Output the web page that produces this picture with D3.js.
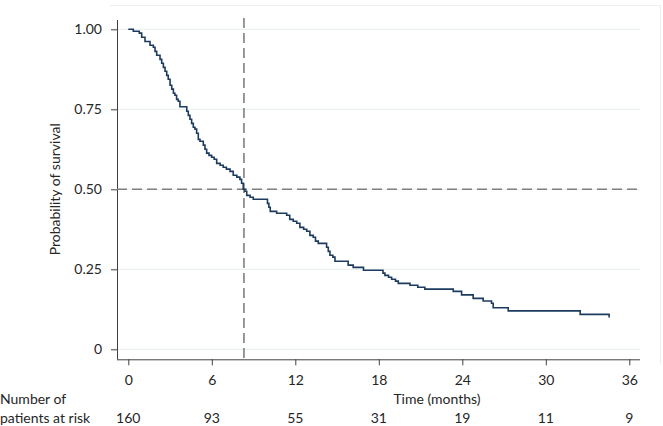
<!DOCTYPE html>
<html>
<head>
<meta charset="utf-8">
<script src="https://cdn.jsdelivr.net/npm/d3@7"></script>
<style>
  html, body { margin: 0; padding: 0; background: #fff; }
  svg { display: block; }
  text { font-family: Lato, "Open Sans", sans-serif; fill: #262626; }
</style>
</head>
<body>
<svg id="chart" width="663" height="426"></svg>
<script>
// ---- data ----
const stepTimes = [0.36, 0.79, 0.96, 1.2, 1.56, 1.8, 1.92, 2.04, 2.28, 2.4, 2.52, 2.64, 2.76, 2.87, 3.0, 3.12, 3.24, 3.35, 3.47, 3.59, 3.71,
  4.2, 4.31, 4.43, 4.55, 4.67, 4.79, 4.91, 5.03, 5.15, 5.39, 5.51, 5.63, 5.8, 5.99, 6.17, 6.35, 6.6, 6.82, 7.05, 7.31, 7.54, 7.8, 8.02,
  8.14, 8.26, 8.38, 8.51, 8.75, 8.98, 10.0, 10.1, 10.2, 10.66, 11.38, 11.6, 11.85, 12.1, 12.33, 12.6, 12.82, 13.05, 13.29, 13.45, 13.65,
  14.25, 14.37, 14.49, 14.7, 14.85, 15.8, 16.16, 16.9, 18.3, 18.44, 18.7, 18.92, 19.2, 19.4, 20.24, 20.8, 21.31, 23.35, 23.95, 24.78,
  25.5, 26.1, 26.22, 27.3, 32.47, 34.55];
const stepSurv = [0.994, 0.988, 0.975, 0.962, 0.950, 0.944, 0.931, 0.919, 0.906, 0.894, 0.881, 0.869, 0.856, 0.844, 0.825, 0.813, 0.800, 0.794, 0.781, 0.775, 0.758,
  0.744, 0.731, 0.719, 0.706, 0.694, 0.688, 0.675, 0.656, 0.650, 0.638, 0.625, 0.613, 0.606, 0.600, 0.594, 0.581, 0.575, 0.569, 0.563, 0.556, 0.544, 0.538, 0.531,
  0.519, 0.500, 0.494, 0.481, 0.475, 0.469, 0.456, 0.444, 0.431, 0.425, 0.419, 0.406, 0.400, 0.394, 0.381, 0.375, 0.369, 0.356, 0.350, 0.338, 0.331,
  0.319, 0.306, 0.294, 0.288, 0.275, 0.263, 0.256, 0.247, 0.238, 0.231, 0.225, 0.219, 0.213, 0.206, 0.200, 0.194, 0.188, 0.181, 0.170, 0.159,
  0.151, 0.144, 0.130, 0.120, 0.109, 0.099];
const xTicks = [0, 6, 12, 18, 24, 30, 36];
const yTicks = [0, 0.25, 0.5, 0.75, 1];
const yTickLabels = ["0", "0.25", "0.50", "0.75", "1.00"];
const riskCounts = [160, 93, 55, 31, 19, 11, 9];
const medianTime = 8.31;
const medianSurv = 0.5;

// ---- drawing ----
const FS = 14;
const FONT = "Lato, 'Open Sans', sans-serif";
const svg = d3.select("#chart");
const x = d3.scaleLinear().domain([0, 36]).range([128.3, 629.3]);
const y = d3.scaleLinear().domain([0, 1]).range([349.3, 29.3]);
const axisX0 = 117, axisX1 = 640, axisY = 359.3, axisTop = 20;

// outer frame (top and right edges)
svg.append("line").attr("x1", 110).attr("x2", 660).attr("y1", 5.5).attr("y2", 5.5)
  .attr("stroke", "#eceff1").attr("stroke-width", 1);
svg.append("line").attr("x1", 660.5).attr("x2", 660.5).attr("y1", 5).attr("y2", 364)
  .attr("stroke", "#eceff1").attr("stroke-width", 1);

// gridlines
svg.append("g").selectAll("line").data(yTicks).join("line")
  .attr("x1", axisX0).attr("x2", axisX1)
  .attr("y1", d => y(d)).attr("y2", d => y(d))
  .attr("stroke", "#e6edf1").attr("stroke-width", 1);

// y axis
const gy = svg.append("g").attr("transform", `translate(${axisX0},0)`)
  .call(d3.axisLeft(y).tickValues(yTicks).tickFormat((d, i) => yTickLabels[i]).tickSize(6).tickPadding(9));
gy.select(".domain").remove();
gy.selectAll(".tick line").attr("stroke", "#404040");
gy.selectAll("text").attr("font-size", FS).style("font-family", FONT).attr("fill", "#262626");
svg.append("line").attr("x1", axisX0 + 0.5).attr("x2", axisX0 + 0.5).attr("y1", axisTop).attr("y2", axisY)
  .attr("stroke", "#404040").attr("stroke-width", 1);

// x axis
const gx = svg.append("g").attr("transform", `translate(0,${axisY})`)
  .call(d3.axisBottom(x).tickValues(xTicks).tickFormat(d3.format("d")).tickSize(6).tickPadding(10));
gx.select(".domain").remove();
gx.selectAll(".tick line").attr("stroke", "#404040");
gx.selectAll("text").attr("font-size", FS).style("font-family", FONT).attr("fill", "#262626");
svg.append("line").attr("x1", axisX0).attr("x2", axisX1).attr("y1", axisY + 0.5).attr("y2", axisY + 0.5)
  .attr("stroke", "#404040").attr("stroke-width", 1);

// median reference lines
svg.append("line").attr("x1", axisX0).attr("x2", axisX1)
  .attr("y1", y(medianSurv)).attr("y2", y(medianSurv))
  .attr("stroke", "#7f7f7f").attr("stroke-width", 1.6).attr("stroke-dasharray", "10,5");
svg.append("line").attr("x1", x(medianTime)).attr("x2", x(medianTime))
  .attr("y1", 18).attr("y2", axisY)
  .attr("stroke", "#7f7f7f").attr("stroke-width", 1.6).attr("stroke-dasharray", "10,5");

// KM curve
const pts = [[0, 1]].concat(stepTimes.map((t, i) => [t, stepSurv[i]]));
const line = d3.line().x(d => x(d[0])).y(d => y(d[1])).curve(d3.curveStepAfter);
svg.append("path").attr("d", line(pts))
  .attr("fill", "none").attr("stroke", "#1c3b5e").attr("stroke-width", 1.6);

// axis titles
svg.append("text").attr("transform", `translate(60,${(y(0)+y(1))/2}) rotate(-90)`)
  .attr("text-anchor", "middle").attr("font-size", FS).text("Probability of survival");
svg.append("text").attr("x", 437).attr("y", 404).attr("text-anchor", "middle")
  .attr("font-size", FS).text("Time (months)");

// risk table
svg.append("text").attr("x", 0).attr("y", 404).attr("font-size", FS).text("Number of");
svg.append("text").attr("x", 0).attr("y", 422.5).attr("font-size", FS).text("patients at risk");
svg.append("g").selectAll("text").data(riskCounts).join("text")
  .attr("x", (d, i) => x(xTicks[i])).attr("y", 422.5)
  .attr("text-anchor", "middle").attr("font-size", FS).text(d => d);
</script>
</body>
</html>
